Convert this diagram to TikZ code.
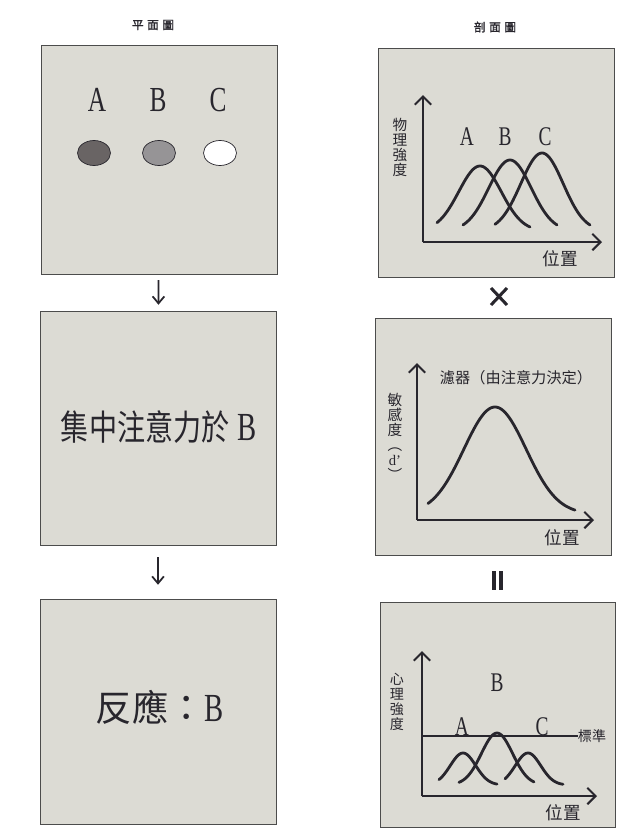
\documentclass[tikz,border=0pt]{standalone}
\usepackage{fontspec}
\setmainfont{Liberation Serif}
\newfontfamily\cjk{Noto Sans CJK TC}
\newfontfamily\cjkhead[FakeBold=1.5]{Noto Sans CJK TC}
\newfontfamily\cjknarrow[FakeStretch=0.8]{Noto Sans CJK TC}
\newfontfamily\narrowserif[FakeStretch=0.72]{Liberation Serif}
\usetikzlibrary{arrows.meta}
\definecolor{panelgray}{RGB}{220,219,212}
\definecolor{ink}{RGB}{40,38,45}
\definecolor{spotA}{RGB}{105,100,100}
\definecolor{spotB}{RGB}{150,148,150}

\begin{document}
\begin{tikzpicture}[x=0.03cm, y=-0.03cm,
  panel/.style={draw=gray!60!black, fill=panelgray, inner sep=0pt,
                minimum width=7.08cm},
  heading/.style={font=\cjkhead\fontsize{10}{10}\selectfont, text=ink},
  letter/.style={font=\narrowserif\fontsize{30}{30}\selectfont, text=ink},
  plotletter/.style={font=\narrowserif\fontsize{23}{23}\selectfont, text=ink},
  vlabel/.style={font=\cjk\fontsize{12.5}{12.8}\selectfont, align=center,
                 text=ink, inner sep=0pt},
  poslabel/.style={font=\cjk\fontsize{15}{15}\selectfont, text=ink, inner sep=0pt},
  spot/.style={draw=ink, line width=0.6pt},
  curve/.style={ink, line width=2.4pt, line cap=round},
  axis/.style={ink, line width=1.7pt, -{Straight Barb[length=7pt,width=14pt]}},
  flow/.style={ink, line width=1.5pt, -{Straight Barb[length=6pt,width=10pt]}},
  opmark/.style={ink, line width=2.6pt}
]
\useasboundingbox (0,0) rectangle (630,832);

% left column: plan view
\node[heading] (plantitle) at (153,25) {平\hspace{3pt}面\hspace{3pt}圖};
\node[panel, minimum height=6.87cm] (plan)  at (159,159.5) {};
\node[panel, minimum height=7.02cm] (focus) at (158,428) {};
\node[panel, minimum height=6.75cm] (resp)  at (158,711.5) {};

\node[letter] (labA) at (97,100)  {A};
\node[letter] (labB) at (158,100) {B};
\node[letter] (labC) at (218,100) {C};
\draw[spot, fill=spotA] (94,153)  ellipse [x radius=16.5, y radius=12.5];
\draw[spot, fill=spotB] (159,153) ellipse [x radius=16.5, y radius=12.5];
\draw[spot, fill=white] (220,153) ellipse [x radius=16.5, y radius=12.5];

\node[text=ink] (focustext) at (159,427)
  {{\cjknarrow\fontsize{30}{30}\selectfont 集中注意力於}\hspace{7pt}%
   {\narrowserif\fontsize{34}{34}\selectfont B}};
\node[text=ink] (resptext) at (160,707)
  {{\cjk\fontsize{31}{31}\selectfont 反應：}{\narrowserif\fontsize{34}{34}\selectfont B}};

\draw[flow, shorten <=6*0.03cm, shorten >=6*0.03cm] (plan) -- (focus);
\draw[flow, shorten <=12*0.03cm, shorten >=14*0.03cm] (focus) -- (resp);

% right column: section view
\node[heading] (secttitle) at (495,27) {剖\hspace{3pt}面\hspace{3pt}圖};
\node[panel, minimum height=6.87cm] (phys)  at (496,162.5) {};
\node[panel, minimum height=7.11cm] (filt)  at (493,436.5) {};
\node[panel, minimum height=6.75cm, minimum width=7.05cm] (psych) at (497.5,714.5) {};

% physical intensity
\coordinate (po) at (423,242);
\draw[axis] (po) -- (423,95);
\draw[axis] (po) -- (602,242);
\node[vlabel] (physy) at (400,147) {物\\理\\強\\度};
\node[poslabel] (physx) at (560,259) {位置};
\node[plotletter] (pA) at (467,137) {A};
\node[plotletter] (pB) at (505,137) {B};
\node[plotletter] (pC) at (545,137) {C};
\draw[curve] plot[domain=437:530, samples=60, smooth] (\x,{231-65*exp(-((\x-480)/30)^2)});
\draw[curve] plot[domain=463:557, samples=60, smooth] (\x,{231-71*exp(-((\x-510)/30)^2)});
\draw[curve] plot[domain=495:590, samples=60, smooth] (\x,{231-78*exp(-((\x-542)/30)^2)});

% multiplication mark
\coordinate (xa) at (491,288);
\coordinate (xb) at (507,305);
\coordinate (xc) at (507,288);
\coordinate (xd) at (491,305);
\draw[opmark] (xa) -- (xb);
\draw[opmark] (xc) -- (xd);

% attention filter
\coordinate (fo) at (417,520);
\draw[axis] (fo) -- (417,363);
\draw[axis] (fo) -- (594,520);
\node[font=\cjk\fontsize{13}{13}\selectfont, text=ink, inner sep=0pt] (filttitle)
  at (516,378) {濾器（由注意力決定）};
\node[vlabel] (filty) at (395,437) {敏\\感\\度\\︵\\{\rmfamily d’}\\︶};
\node[poslabel] (filtx) at (562,538) {位置};
\draw[curve] plot[domain=428:575, samples=80, smooth] (\x,{514-107*exp(-((\x-495)/44)^2)});

% equals mark
\coordinate (ea) at (494,571);
\coordinate (eb) at (494,590);
\coordinate (ec) at (501,571);
\coordinate (ed) at (501,590);
\draw[opmark, line width=3.3pt] (ea) -- (eb);
\draw[opmark, line width=3.3pt] (ec) -- (ed);

% psychological intensity
\coordinate (so) at (422,796);
\draw[axis] (so) -- (422,651);
\draw[axis] (so) -- (597,796);
\coordinate (crit) at (422,736);
\node[font=\cjk\fontsize{12}{12}\selectfont, text=ink, inner sep=0pt] (critlabel)
  at (592,736) {標準};
\draw[ink, line width=1.7pt] (crit) -- (critlabel.west);
\node[vlabel, font=\cjk\fontsize{12}{13}\selectfont] (psychy) at (397,702) {心\\理\\強\\度};
\node[poslabel] (psychx) at (563,813) {位置};
\node[plotletter] (sA) at (462,727) {A};
\node[plotletter] (sB) at (497,683) {B};
\node[plotletter] (sC) at (542,727) {C};
\draw[curve] plot[domain=439:497, samples=50, smooth] (\x,{785-32*exp(-((\x-463)/18)^2)});
\draw[curve] plot[domain=459:534, samples=50, smooth] (\x,{785-52*exp(-((\x-497)/22)^2)});
\draw[curve] plot[domain=505:563, samples=50, smooth] (\x,{785-32*exp(-((\x-528)/18)^2)});
\end{tikzpicture}
\end{document}
